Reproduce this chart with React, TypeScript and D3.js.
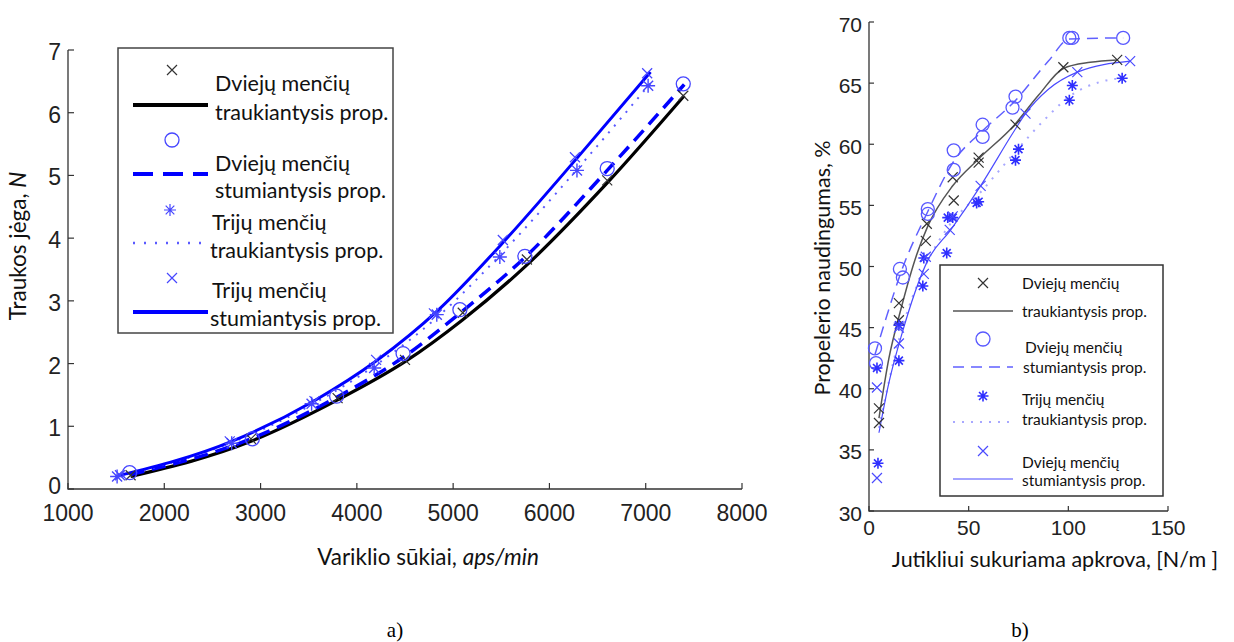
import * as d3 from "d3";

// --- (a) thrust vs motor speed ---
const rpmTicks = [1000, 2000, 3000, 4000, 5000, 6000, 7000, 8000];
const thrustTicks = [0, 1, 2, 3, 4, 5, 6, 7];

const twoPullPtsA = [[1650, 0.22], [2900, 0.8], [3800, 1.45], [4500, 2.06], [5100, 2.81], [5766, 3.66], [6600, 4.92], [7390, 6.27]];
const twoPushPtsA = [[1640, 0.26], [2915, 0.8], [3790, 1.48], [4480, 2.16], [5070, 2.86], [5745, 3.71], [6600, 5.11], [7390, 6.46]];
const threePullPtsA = [[1510, 0.2], [2700, 0.73], [3530, 1.36], [4180, 1.93], [4830, 2.78], [5485, 3.7], [6286, 5.08], [7025, 6.43]];
const threePushPtsA = [[1540, 0.22], [2680, 0.76], [3560, 1.4], [4200, 2.06], [4800, 2.8], [5516, 3.97], [6265, 5.29], [7015, 6.63]];

const twoPullLineA = [[1650, 0.2], [2900, 0.76], [3800, 1.42], [4500, 2.03], [5100, 2.7], [5750, 3.55], [6600, 4.88], [7400, 6.27]];
const twoPushLineA = [[1650, 0.23], [2900, 0.8], [3800, 1.47], [4500, 2.12], [5100, 2.84], [5750, 3.7], [6600, 5.08], [7400, 6.45]];
const threePullLineA = [[1520, 0.2], [2700, 0.74], [3550, 1.36], [4200, 1.98], [4850, 2.76], [5500, 3.75], [6300, 5.12], [7050, 6.47]];
const threePushLineA = [[1520, 0.21], [2700, 0.76], [3550, 1.4], [4200, 2.04], [4850, 2.86], [5500, 3.9], [6300, 5.3], [7050, 6.65]];

const legendA = [
  ["Dviejų menčių", "traukiantysis prop."],
  ["Dviejų menčių", "stumiantysis prop."],
  ["Trijų menčių", "traukiantysis prop."],
  ["Trijų menčių", "stumiantysis prop."],
];

// --- (b) efficiency vs load ---
const loadTicks = [0, 50, 100, 150];
const effTicks = [30, 35, 40, 45, 50, 55, 60, 65, 70];

const twoPullPtsB = [[5, 38.4], [5, 37.2], [15, 47.0], [15, 45.6], [28.5, 52.1], [29, 53.5], [42, 57.3], [42.5, 55.4], [55, 58.9], [55, 58.5], [73.5, 61.6], [97.5, 66.3], [124.5, 66.9]];
const twoPushPtsB = [[3, 43.3], [3.5, 42.1], [15.5, 49.8], [17, 49.1], [29.5, 54.7], [29.5, 54.3], [42.5, 59.5], [42.5, 57.9], [57, 61.6], [57, 60.6], [73.5, 63.9], [72, 63.0], [100.5, 68.7], [102, 68.7], [127.5, 68.7]];
const threePullPtsB = [[4, 41.7], [4.5, 33.9], [15, 45.2], [15, 42.3], [27, 48.4], [27.5, 50.7], [39, 51.1], [39.5, 54.0], [42, 54.0], [54, 55.2], [55, 55.3], [73.5, 58.7], [75, 59.6], [100.5, 63.6], [102, 64.8], [127, 65.4]];
const threePushPtsB = [[4, 40.1], [4, 32.7], [15, 43.7], [15, 45.0], [27.5, 49.4], [28.5, 50.8], [40.5, 53.0], [42, 54.1], [56, 56.6], [78.5, 62.5], [104.5, 65.9], [131, 66.8]];

const twoPullLineB = [[5, 37.6], [10, 42.5], [16, 46.5], [24, 51], [29.5, 53.3], [42, 56.6], [55, 58.8], [72.5, 61.5], [85, 64], [97.5, 66.2], [111, 66.7], [124.5, 66.9]];
const twoPushLineB = [[3, 42.8], [9, 46], [16, 49.5], [29.5, 54.5], [42.5, 58.6], [57, 61.1], [73, 63.5], [90, 66.8], [100.5, 68.6], [127.5, 68.7]];
const threePullLineB = [[5, 36.8], [15, 44], [27, 49.6], [40, 53.3], [55, 55.9], [73.5, 59.4], [88, 62], [100.5, 63.9], [116, 65.1], [127, 65.4]];
const threePushLineB = [[5, 36.4], [10, 40.5], [16, 44.2], [29.5, 50.5], [41, 53.0], [56, 56.6], [72.5, 61.0], [78.5, 62.5], [90, 64.5], [104.5, 65.9], [131, 66.8]];

const legendB = [
  ["Dviejų menčių", "traukiantysis prop."],
  ["Dviejų menčių", "stumiantysis prop."],
  ["Trijų menčių", "traukiantysis prop."],
  ["Dviejų menčių", "stumiantysis prop."],
];

const SANS = "'Liberation Sans', Arial, sans-serif";
const HUMAN = "Lato, 'Open Sans', sans-serif";

const xA = d3.scaleLinear().domain([1000, 8000]).range([68, 742]);
const yA = d3.scaleLinear().domain([0, 7]).range([489, 50]);
const xB = d3.scaleLinear().domain([0, 150]).range([869, 1168]);
const yB = d3.scaleLinear().domain([30, 70]).range([511, 22]);

function Cross({ x, y, s, color, w = 1.2 }) {
  return (
    <path d={`M${x - s},${y - s}L${x + s},${y + s}M${x - s},${y + s}L${x + s},${y - s}`} stroke={color} strokeWidth={w} fill="none" />
  );
}

function Star({ x, y, s, color, w = 1.2 }) {
  const d = s * 0.72;
  return (
    <path
      d={`M${x},${y - s}V${y + s}M${x - s},${y}H${x + s}M${x - d},${y - d}L${x + d},${y + d}M${x - d},${y + d}L${x + d},${y - d}`}
      stroke={color}
      strokeWidth={w}
      fill="none"
    />
  );
}

function Ring({ x, y, r, color, w = 1.3 }) {
  return <circle cx={x} cy={y} r={r} stroke={color} strokeWidth={w} fill="none" />;
}

function Axes({ x, y, xTicks, yTicks, tick, fs, xOff, lift = 0 }) {
  const [x0, x1] = x.range();
  const [y0, y1] = y.range();
  return (
    <g fontFamily={SANS} fontSize={fs} fill="#222">
      <path d={`M${x0},${y1}V${y0}H${x1}`} stroke="#333" strokeWidth={1.3} fill="none" />
      {xTicks.map((t) => (
        <g key={"x" + t}>
          <line x1={x(t)} x2={x(t)} y1={y0} y2={y0 - tick} stroke="#333" strokeWidth={1.2} />
          <text x={x(t)} y={y0 + xOff} textAnchor="middle" dominantBaseline="central">{t}</text>
        </g>
      ))}
      {yTicks.map((t, i) => (
        <g key={"y" + t}>
          <line x1={x0} x2={x0 + tick} y1={y(t)} y2={y(t)} stroke="#333" strokeWidth={1.2} />
          <text x={x0 - 7} y={y(t) + 2 - (i === 0 ? lift : 0)} textAnchor="end" dominantBaseline="central">{t}</text>
        </g>
      ))}
    </g>
  );
}

export default function App() {
  const lineA = d3.line().x((d) => xA(d[0])).y((d) => yA(d[1])).curve(d3.curveMonotoneX);
  const lineB = d3.line().x((d) => xB(d[0])).y((d) => yB(d[1])).curve(d3.curveMonotoneX);

  const blue = "#0000ff";
  const mBlue = "#4646ff";

  // legend layout (a)
  const lgA = { mx: 172, my: [70, 140, 210, 278], ly: [105, 174, 243, 312], t1: [83, 163, 222, 290], t2: [112, 190, 250, 318], tx1: [215, 215, 212, 212], tx2: [215, 215, 210, 210] };
  const lgB = { mx: 983, my: [283, 339, 396, 451], ly: [311, 367, 422, 479], t1: [283, 347, 399, 462], t2: [311, 367, 419, 480], tx1: [1022, 1025, 1022, 1022], tx2: [1022, 1023, 1022, 1022] };

  return (
    <svg width={1234} height={642} style={{ position: "absolute", left: 0, top: 0, background: "#fff" }}>
      {/* ---------- chart a ---------- */}
      <Axes x={xA} y={yA} xTicks={rpmTicks} yTicks={thrustTicks} tick={6} fs={23} xOff={24} lift={5} />

      <path d={lineA(twoPullLineA)} stroke="#000" strokeWidth={3.2} fill="none" />
      <path d={lineA(twoPushLineA)} stroke={blue} strokeWidth={3.5} strokeDasharray="14 8" fill="none" />
      <path d={lineA(threePullLineA)} stroke="#5a5aff" strokeWidth={2} strokeDasharray="2 7" fill="none" />
      <path d={lineA(threePushLineA)} stroke={blue} strokeWidth={3} fill="none" />

      {twoPullPtsA.map((d, i) => <Cross key={"a1" + i} x={xA(d[0])} y={yA(d[1])} s={5} color="#333" />)}
      {twoPushPtsA.map((d, i) => <Ring key={"a2" + i} x={xA(d[0])} y={yA(d[1])} r={7} color={mBlue} />)}
      {threePullPtsA.map((d, i) => <Star key={"a3" + i} x={xA(d[0])} y={yA(d[1])} s={7} color={mBlue} w={1.4} />)}
      {threePushPtsA.map((d, i) => <Cross key={"a4" + i} x={xA(d[0])} y={yA(d[1])} s={5} color={mBlue} />)}

      <rect x={118} y={48} width={275} height={285} fill="#fff" stroke="#444" strokeWidth={1.5} />
      <Cross x={lgA.mx} y={lgA.my[0]} s={5} color="#333" />
      <Ring x={lgA.mx} y={lgA.my[1]} r={7} color={mBlue} />
      <Star x={lgA.mx - 2} y={lgA.my[2]} s={6} color={mBlue} />
      <Cross x={lgA.mx} y={lgA.my[3]} s={5} color={mBlue} />
      <line x1={133} x2={208} y1={lgA.ly[0]} y2={lgA.ly[0]} stroke="#000" strokeWidth={4} />
      <line x1={133} x2={208} y1={lgA.ly[1]} y2={lgA.ly[1]} stroke={blue} strokeWidth={4} strokeDasharray="20 10" />
      <line x1={133} x2={208} y1={lgA.ly[2]} y2={lgA.ly[2]} stroke="#5a5aff" strokeWidth={2.5} strokeDasharray="2 9" />
      <line x1={133} x2={208} y1={lgA.ly[3]} y2={lgA.ly[3]} stroke={blue} strokeWidth={4} />
      <g fontFamily={HUMAN} fontSize={21.5} fill="#111" dominantBaseline="central">
        {legendA.map((l, i) => (
          <g key={"la" + i}>
            <text x={lgA.tx1[i]} y={lgA.t1[i]}>{l[0]}</text>
            <text x={lgA.tx2[i]} y={lgA.t2[i]}>{l[1]}</text>
          </g>
        ))}
      </g>

      <text transform="translate(26,246) rotate(-90)" textAnchor="middle" fontFamily={HUMAN} fontSize={22.5} fill="#111">
        Traukos jėga, <tspan fontStyle="italic">N</tspan>
      </text>
      <text x={428} y={565} textAnchor="middle" fontFamily={HUMAN} fontSize={22.5} fill="#111">
        Variklio sūkiai, <tspan fontStyle="italic">aps/min</tspan>
      </text>

      {/* ---------- chart b ---------- */}
      <Axes x={xB} y={yB} xTicks={loadTicks} yTicks={effTicks} tick={5} fs={21} xOff={16} />

      <path d={lineB(twoPullLineB)} stroke="#555" strokeWidth={1.5} fill="none" />
      <path d={lineB(twoPushLineB)} stroke="#6060ff" strokeWidth={1.5} strokeDasharray="11 7" fill="none" />
      <path d={lineB(threePullLineB)} stroke="#a8a8ff" strokeWidth={2} strokeDasharray="2 7" fill="none" />
      <path d={lineB(threePushLineB)} stroke="#4a4aff" strokeWidth={1.2} fill="none" />

      {twoPullPtsB.map((d, i) => <Cross key={"b1" + i} x={xB(d[0])} y={yB(d[1])} s={5} color="#333" />)}
      {twoPushPtsB.map((d, i) => <Ring key={"b2" + i} x={xB(d[0])} y={yB(d[1])} r={6.5} color="#5858ff" />)}
      {threePullPtsB.map((d, i) => <Star key={"b3" + i} x={xB(d[0])} y={yB(d[1])} s={5.5} color="#2f2fff" w={1.6} />)}
      {threePushPtsB.map((d, i) => <Cross key={"b4" + i} x={xB(d[0])} y={yB(d[1])} s={5} color="#4a4aff" />)}

      <rect x={940} y={265} width={223} height={231} fill="#fff" stroke="#333" strokeWidth={1.5} />
      <Cross x={lgB.mx} y={lgB.my[0]} s={5} color="#333" />
      <Ring x={lgB.mx} y={lgB.my[1]} r={7} color="#5858ff" />
      <Star x={lgB.mx} y={lgB.my[2]} s={5.5} color="#2f2fff" w={1.6} />
      <Cross x={lgB.mx} y={lgB.my[3]} s={5} color="#4a4aff" />
      <line x1={953} x2={1013} y1={lgB.ly[0]} y2={lgB.ly[0]} stroke="#555" strokeWidth={1.5} />
      <line x1={953} x2={1013} y1={lgB.ly[1]} y2={lgB.ly[1]} stroke="#6060ff" strokeWidth={1.5} strokeDasharray="11 7" />
      <line x1={953} x2={1013} y1={lgB.ly[2]} y2={lgB.ly[2]} stroke="#a8a8ff" strokeWidth={2} strokeDasharray="2 7" />
      <line x1={953} x2={1013} y1={lgB.ly[3]} y2={lgB.ly[3]} stroke="#4a4aff" strokeWidth={1.2} />
      <g fontFamily={HUMAN} fontSize={15.5} fill="#111" dominantBaseline="central">
        {legendB.map((l, i) => (
          <g key={"lb" + i}>
            <text x={lgB.tx1[i]} y={lgB.t1[i]}>{l[0]}</text>
            <text x={lgB.tx2[i]} y={lgB.t2[i]}>{l[1]}</text>
          </g>
        ))}
      </g>

      <text transform="translate(830,268) rotate(-90)" textAnchor="middle" fontFamily={HUMAN} fontSize={21.5} fill="#111">
        Propelerio naudingumas, %
      </text>
      <text x={1055} y={567} textAnchor="middle" fontFamily={HUMAN} fontSize={21.5} fill="#111">
        Jutikliui sukuriama apkrova, [N/m ]
      </text>

      {/* panel captions */}
      <text x={395} y={637} textAnchor="middle" fontFamily="'Liberation Serif', serif" fontSize={21} fill="#000">a)</text>
      <text x={1020} y={637} textAnchor="middle" fontFamily="'Liberation Serif', serif" fontSize={21} fill="#000">b)</text>
    </svg>
  );
}
